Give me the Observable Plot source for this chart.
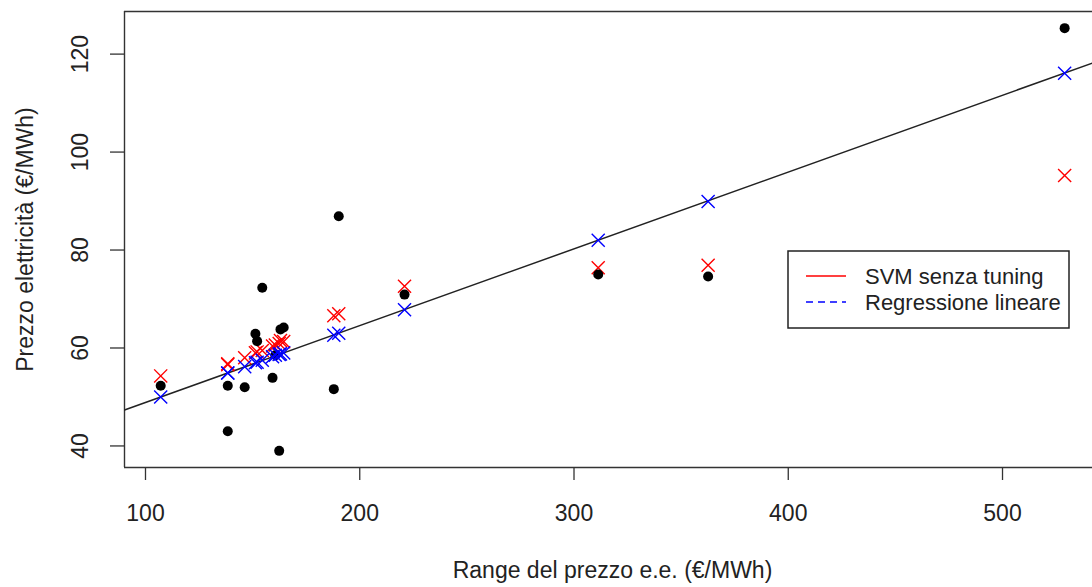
<!DOCTYPE html>
<html><head><meta charset="utf-8">
<script src="https://cdn.jsdelivr.net/npm/d3@7"></script>
<script src="https://cdn.jsdelivr.net/npm/@observablehq/plot@0.6"></script>
<style>
html,body{margin:0;padding:0;background:#fff;overflow:hidden;}
#wrap{position:relative;width:1092px;height:587px;}
#legend{position:absolute;left:787px;top:250px;}
</style></head><body><div id="wrap"></div>
<script>
// Range del prezzo e.e. (€/MWh) for each observation
const rangeX = [107.1, 138.4, 138.4, 146.3, 151.3, 152.1, 154.5, 159.3, 160.6, 162.4, 163.0, 164.5, 187.9, 190.2, 220.9, 311.3, 362.6, 529.0];
// observed electricity price (black dots)
const prezzoReale = [52.3, 52.3, 43.0, 52.0, 62.9, 61.4, 72.3, 53.9, 58.5, 39.0, 63.8, 64.2, 51.6, 86.9, 70.9, 75.0, 74.6, 125.3];
// SVM senza tuning predictions (red x)
const prezzoSVM = [54.3, 56.8, 56.6, 58.0, 59.0, 59.2, 59.5, 60.4, 60.6, 60.9, 61.5, 61.3, 66.6, 67.0, 72.6, 76.4, 76.9, 95.2];
// Regressione lineare predictions (blue x)
const prezzoLM = [50.0, 54.9, 54.9, 56.2, 57.0, 57.1, 57.5, 58.2, 58.5, 58.7, 58.8, 59.0, 62.6, 63.0, 67.8, 82.0, 89.9, 116.1];
const xTicks = [100, 200, 300, 400, 500];
const yTicks = [40, 60, 80, 100, 120];
const regIntercept = 33.2;
const regSlope = 0.1568;
const legendLabels = ["SVM senza tuning", "Regressione lineare"];
const legendColors = ["#ff0000", "#0000ff"];
const legendDash = [null, "7,5"];
const xTitle = "Range del prezzo e.e. (€/MWh)";
const yTitle = "Prezzo elettricità (€/MWh)";

const xDomain = [90.2, 542.0];
const yDomain = [35.6, 128.7];
const FONT = '"Liberation Sans", Arial, sans-serif';

const rows = rangeX.map((x, i) => ({x, real: prezzoReale[i], svm: prezzoSVM[i], lm: prezzoLM[i]}));
const lineData = xDomain.map(x => ({x, y: regIntercept + regSlope * x}));

const chart = Plot.plot({
  width: 1092, height: 587,
  marginLeft: 124, marginRight: 0, marginTop: 11, marginBottom: 120,
  style: {fontFamily: FONT, fontSize: "23px", color: "#222", background: "#fff", overflow: "hidden"},
  x: {domain: xDomain},
  y: {domain: yDomain},
  marks: [
    Plot.ruleY([yDomain[1]], {stroke: "#333", strokeWidth: 1.4}),
    Plot.ruleY([yDomain[0]], {stroke: "#333", strokeWidth: 1.4}),
    Plot.ruleX([xDomain[0]], {stroke: "#333", strokeWidth: 1.4}),
    Plot.axisX({ticks: xTicks, tickSize: 13, tickPadding: 24, label: null, fontSize: 23, stroke: "#333", strokeWidth: 1.3}),
    Plot.axisY({ticks: yTicks, tickSize: 14, tickFormat: () => "", label: null, stroke: "#333", strokeWidth: 1.3}),
    Plot.text(yTicks, {y: d => d, text: d => String(d), frameAnchor: "left", dx: -44, rotate: -90, textAnchor: "middle", lineAnchor: "middle", fontSize: 23}),
    Plot.line(lineData, {x: "x", y: "y", stroke: "#222", strokeWidth: 1.5, clip: true}),
    Plot.dot(rows, {x: "x", y: "svm", symbol: "times", r: 6, stroke: legendColors[0], strokeWidth: 1.4}),
    Plot.dot(rows, {x: "x", y: "real", r: 5, fill: "#000", stroke: "none"}),
    Plot.dot(rows, {x: "x", y: "lm", symbol: "times", r: 6, stroke: legendColors[1], strokeWidth: 1.4}),
    Plot.text([xTitle], {text: d => d, frameAnchor: "bottom", dy: 103, dx: 4, lineAnchor: "middle", fontSize: 23}),
    Plot.text([yTitle], {text: d => d, frameAnchor: "left", dx: -99, rotate: -90, textAnchor: "middle", lineAnchor: "middle", fontSize: 23})
  ]
});
const wrap = document.getElementById("wrap");
wrap.appendChild(chart);

// legend box inside the plot area
const ns = "http://www.w3.org/2000/svg";
const lg = document.createElementNS(ns, "svg");
lg.setAttribute("id", "legend");
lg.setAttribute("width", 284);
lg.setAttribute("height", 80);
lg.style.fontFamily = FONT;
const box = document.createElementNS(ns, "rect");
box.setAttribute("x", 1); box.setAttribute("y", 1);
box.setAttribute("width", 281); box.setAttribute("height", 77);
box.setAttribute("fill", "#fff"); box.setAttribute("stroke", "#222"); box.setAttribute("stroke-width", 1.5);
lg.appendChild(box);
legendLabels.forEach((lab, i) => {
  const cy = 26 + i * 26;
  const ln = document.createElementNS(ns, "line");
  ln.setAttribute("x1", 19); ln.setAttribute("x2", 59);
  ln.setAttribute("y1", cy); ln.setAttribute("y2", cy);
  ln.setAttribute("stroke", legendColors[i]); ln.setAttribute("stroke-width", 1.5);
  if (legendDash[i]) ln.setAttribute("stroke-dasharray", legendDash[i]);
  lg.appendChild(ln);
  const t = document.createElementNS(ns, "text");
  t.setAttribute("x", 78); t.setAttribute("y", cy);
  t.setAttribute("dy", "0.35em");
  t.setAttribute("font-size", 22);
  t.setAttribute("fill", "#222");
  t.textContent = lab;
  lg.appendChild(t);
});
wrap.appendChild(lg);
</script></body></html>
